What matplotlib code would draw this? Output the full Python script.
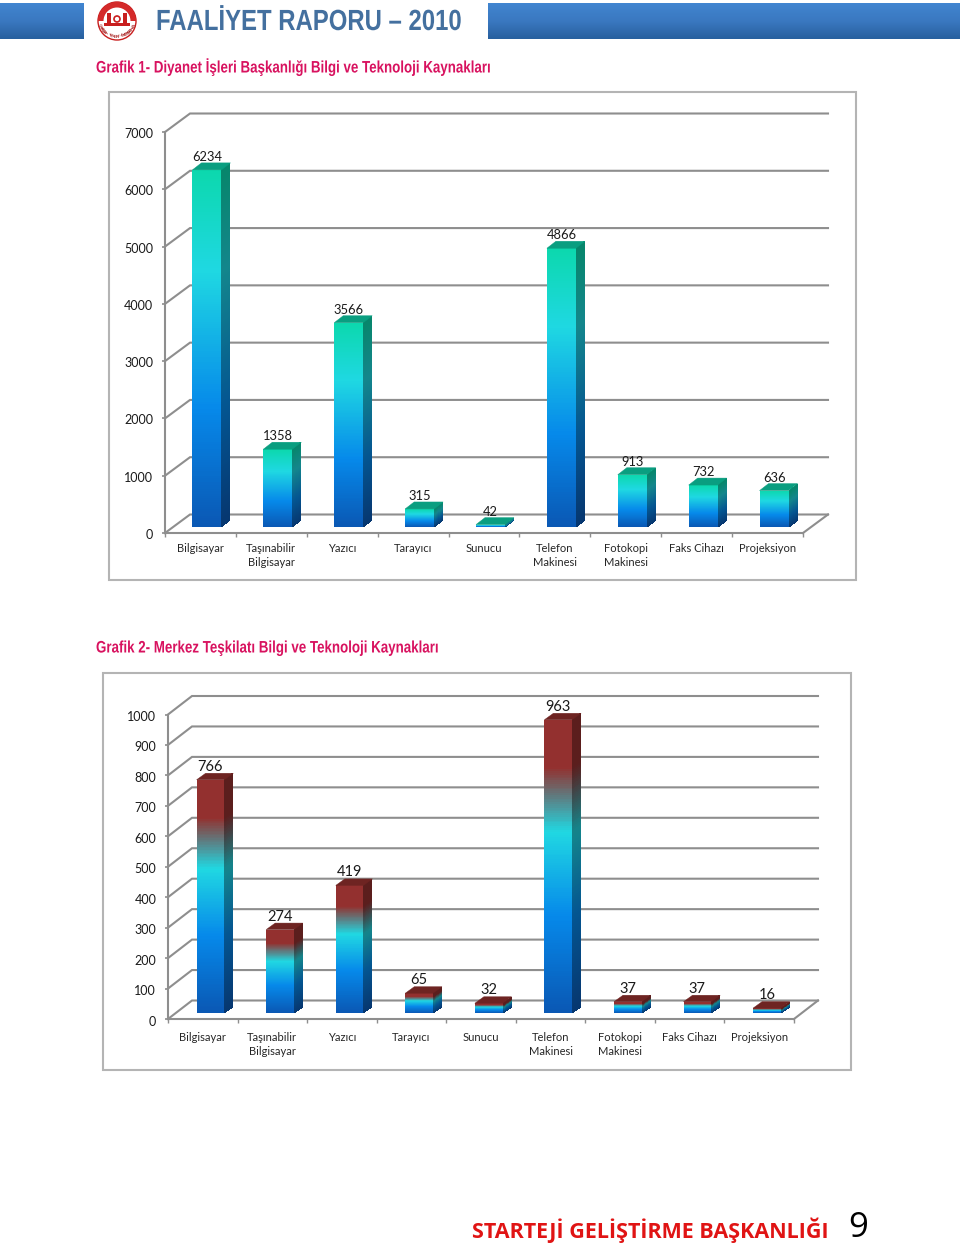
import numpy as np
import matplotlib
matplotlib.use('Agg')
import matplotlib.pyplot as plt
from matplotlib.colors import LinearSegmentedColormap, to_rgb
from matplotlib.patches import Circle, Rectangle, Polygon, Wedge
from matplotlib.patheffects import AbstractPathEffect
from matplotlib.transforms import Affine2D

W, H = 960, 1245

categories = ['Bilgisayar', 'Taşınabilir\nBilgisayar', 'Yazıcı', 'Tarayıcı', 'Sunucu',
              'Telefon\nMakinesi', 'Fotokopi\nMakinesi', 'Faks Cihazı', 'Projeksiyon']
values_1 = [6234, 1358, 3566, 315, 42, 4866, 913, 732, 636]
values_2 = [766, 274, 419, 65, 32, 963, 37, 37, 16]
yticks_1 = [0, 1000, 2000, 3000, 4000, 5000, 6000, 7000]
yticks_2 = [0, 100, 200, 300, 400, 500, 600, 700, 800, 900, 1000]

title_1 = 'Grafik 1- Diyanet İşleri Başkanlığı Bilgi ve Teknoloji Kaynakları'
title_2 = 'Grafik 2- Merkez Teşkilatı Bilgi ve Teknoloji Kaynakları'

GRID = '#8e8e8e'
FRAME = '#b4b4b4'
LABEL_FONT = ['Lato', 'DejaVu Sans']
HEAD_FONT = ['Liberation Sans', 'DejaVu Sans']

# gradients run from the bar's foot (0) to its top (1)
cmap_1 = LinearSegmentedColormap.from_list('c1', [
    (0.0, '#0a58b4'), (0.33, '#0689ea'), (0.72, '#1fd8e2'), (1.0, '#0cd8ae')])
cmap_2 = LinearSegmentedColormap.from_list('c2', [
    (0.0, '#0a58b4'), (0.33, '#0689ea'), (0.62, '#20d8e2'), (0.84, '#93302f'), (1.0, '#93302f')])


class Squeeze(AbstractPathEffect):
    # no narrow font here, so the glyph outlines get narrowed when drawn
    def __init__(self, sx):
        super().__init__()
        self.sx = sx

    def draw_path(self, renderer, gc, tpath, affine, rgbFace=None):
        renderer.draw_path(gc, tpath, Affine2D().scale(self.sx, 1) + affine, rgbFace)


def darker(cmap, fact):
    cols = [tuple(c * fact for c in to_rgb(cmap(i / 32))) for i in range(33)]
    return LinearSegmentedColormap.from_list(cmap.name + '_d', cols)


def pixel_axes(fig, x0, x1, y0, y1):
    # x0..x1 and y0 (bottom), y1 (top) are in picture pixels
    return fig.add_axes([x0 / W, 1 - y0 / H, (x1 - x0) / W, (y0 - y1) / H])


def draw_bar(ax, x, w, v, base_y, dx, dy, cmap, top_col):
    ys = np.linspace(base_y, base_y + v, 161)
    t = np.linspace(0, 1, 160)[:, None]
    ax.pcolormesh([x, x + w], ys, t, cmap=cmap, vmin=0, vmax=1, shading='flat',
                  clip_on=False, zorder=5, antialiased=False)
    # side face, slanted back
    xx = np.column_stack([np.full(161, x + w), np.full(161, x + w + dx)])
    yy = np.column_stack([ys, ys + dy])
    ax.pcolormesh(xx, yy, t, cmap=darker(cmap, 0.62), vmin=0, vmax=1, shading='flat',
                  clip_on=False, zorder=5, antialiased=False)
    top = base_y + v
    ax.add_patch(Polygon([(x, top), (x + w, top), (x + w + dx, top + dy), (x + dx, top + dy)],
                         closed=True, fc=top_col, ec=top_col, lw=0.3, clip_on=False, zorder=6))


def chart(fig, box, values, yticks, cmap, top_col, geom):
    ax = pixel_axes(fig, *box)
    ymax = yticks[-1]
    n = len(values)
    ax.set_xlim(0, n)
    ax.set_ylim(0, ymax)
    ax.patch.set_alpha(0)
    px_x = n / (box[1] - box[0])
    px_y = ymax / (box[2] - box[3])
    back_x, back_y = geom['back'][0] * px_x, geom['back'][1] * px_y

    # back wall and the slanted pieces
    for v in yticks:
        ax.plot([0, back_x, n + back_x], [v, v + back_y, v + back_y], color=GRID, lw=1.5,
                clip_on=False, zorder=1, solid_joinstyle='miter')
    ax.plot([n, n + back_x], [0, back_y], color=GRID, lw=1.5, clip_on=False, zorder=1)

    for s in ['top', 'right']:
        ax.spines[s].set_visible(False)
    for s in ['left', 'bottom']:
        ax.spines[s].set_color(GRID)
        ax.spines[s].set_linewidth(1.5)
        ax.spines[s].set_zorder(2)

    ax.set_yticks(yticks)
    ax.set_yticklabels([str(v) for v in yticks], family=LABEL_FONT, fontsize=geom['tick_fs'], color='#1a1a1a')
    ax.tick_params(axis='y', length=2.5, width=1.2, color=GRID, pad=geom['ypad'])
    for lab in ax.get_yticklabels():
        lab.set_transform(lab.get_transform() + Affine2D().translate(0, -geom['ydrop']))
    ax.set_xticks(np.arange(n + 1))
    ax.set_xticklabels([])
    ax.tick_params(axis='x', which='major', length=3, width=1, color=GRID)
    ax.set_xticks(np.arange(n) + 0.5, categories, minor=True, family=LABEL_FONT,
                  fontsize=geom['cat_fs'], color='#262626', linespacing=1.32)
    ax.tick_params(axis='x', which='minor', length=0, pad=geom['xpad'])

    w = geom['w'] * px_x
    off = geom['off'] * px_x
    base = geom['base'] * px_y
    for i, v in enumerate(values):
        x = i + 0.5 - w / 2 + off
        draw_bar(ax, x, w, v, base, geom['depth'][0] * px_x, geom['depth'][1] * px_y, cmap, top_col)
        ax.annotate(str(v), (x + w / 2, base + v), xytext=(0, geom['lab'] * 0.72),
                    textcoords='offset points', ha='center', va='center',
                    family=LABEL_FONT, fontsize=geom['lab_fs'], color='#1a1a1a',
                    zorder=8, annotation_clip=False)
    return ax


def emblem(bg, cx, cy):
    bg.add_patch(Circle((cx, cy), 19, fc='white', ec='#c81e1e', lw=1, zorder=2))
    # y axis is flipped here, so this wedge lands on the upper half
    bg.add_patch(Wedge((cx, cy), 19, 180, 360, width=5.5, fc='#d42a2a', ec='none', zorder=3))
    bg.add_patch(Rectangle((cx - 13, cy + 2), 26, 2.5, fc='#c81e1e', zorder=4))
    bg.add_patch(Rectangle((cx - 10, cy - 8), 4, 10, fc='#c81e1e', zorder=4))
    bg.add_patch(Rectangle((cx + 6, cy - 8), 4, 10, fc='#c81e1e', zorder=4))
    bg.add_patch(Circle((cx, cy - 2), 3, fc='white', ec='#c81e1e', lw=1.2, zorder=4))
    word = 'DİYANET İŞLERİ BAŞKANLIĞI'
    for i, ch in enumerate(word):
        a = np.radians(165 - 150 * i / (len(word) - 1))
        bg.text(cx + 15.5 * np.cos(a), cy + 15.5 * np.sin(a), ch, fontsize=3, weight='bold',
                family=HEAD_FONT, color='#a82020', ha='center', va='center',
                rotation=np.degrees(a) - 90, zorder=5)


def main():
    fig = plt.figure(figsize=(W / 100, H / 100), dpi=100, facecolor='white')

    # page furniture, in picture pixels
    bg = fig.add_axes([0, 0, 1, 1])
    bg.axis('off')
    band = np.linspace(0, 1, 36)[:, None]
    band_map = LinearSegmentedColormap.from_list('band', ['#4185d0', '#3a78c0', '#28609f'])
    bg.imshow(band, extent=[0, 84, 39, 3], cmap=band_map, aspect='auto', zorder=1)
    bg.imshow(band, extent=[488, W, 39, 3], cmap=band_map, aspect='auto', zorder=1)
    bg.set_xlim(0, W)
    bg.set_ylim(H, 0)
    bg.add_patch(Rectangle((109, 92), 747, 488, fc='white', ec=FRAME, lw=1.5, zorder=0))
    bg.add_patch(Rectangle((103, 673), 748, 397, fc='white', ec=FRAME, lw=1.5, zorder=0))
    emblem(bg, 117, 21)

    fig.text(156 / W, 1 - 22 / H, 'FAALİYET RAPORU – 2010', family=HEAD_FONT, weight='bold',
             fontsize=21, color='#44709f', va='center', ha='left', path_effects=[Squeeze(0.82)])
    fig.text(96 / W, 1 - 67 / H, title_1, family=HEAD_FONT, weight='bold', fontsize=12,
             color='#d8125f', va='center', ha='left', path_effects=[Squeeze(0.80)])
    fig.text(96 / W, 1 - 648 / H, title_2, family=HEAD_FONT, weight='bold', fontsize=12,
             color='#d8125f', va='center', ha='left', path_effects=[Squeeze(0.80)])
    fig.text(472 / W, 1 - 1230 / H, 'STARTEJİ GELİŞTİRME BAŞKANLIĞI', family=['Open Sans', 'DejaVu Sans'],
             weight='bold', fontsize=15.5, color='#e01414', va='center', ha='left')
    fig.text(858 / W, 1 - 1228 / H, '9', family=['Open Sans', 'DejaVu Sans'], fontsize=25,
             color='black', va='center', ha='center')

    chart(fig, (165, 803, 533, 132), values_1, yticks_1, cmap_1, '#0a9e80', dict(
        back=(25, 18.5), w=29, off=6.5, base=6, depth=(9, 7), lab=13,
        tick_fs=9, lab_fs=9.3, cat_fs=8, ypad=6, xpad=7, ydrop=1))
    chart(fig, (168, 794, 1019, 714.5), values_2, yticks_2, cmap_2, '#6e2422', dict(
        back=(24, 18.5), w=27.7, off=7.7, base=6, depth=(9, 6.5), lab=13,
        tick_fs=9, lab_fs=10.5, cat_fs=8, ypad=6, xpad=9.5, ydrop=1.5))

    fig.savefig('out.png', dpi=100)


if __name__ == '__main__':
    main()
